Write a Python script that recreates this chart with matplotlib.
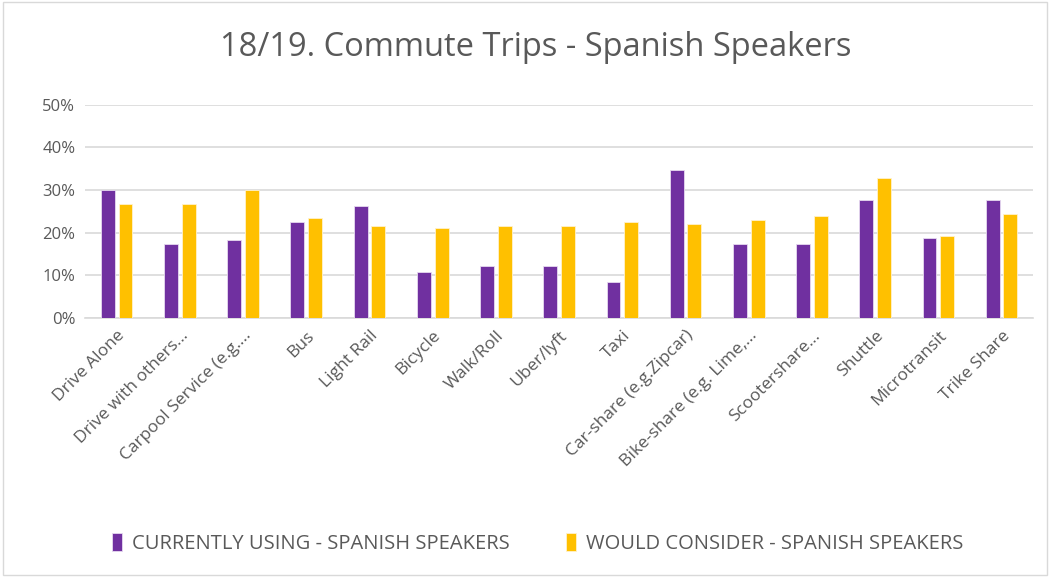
import matplotlib.pyplot as plt
import numpy as np
from matplotlib.patches import Rectangle

categories = ["Drive Alone", "Drive with others...", "Carpool Service (e.g....", "Bus",
              "Light Rail", "Bicycle", "Walk/Roll", "Uber/lyft", "Taxi",
              "Car-share (e.g.Zipcar)", "Bike-share (e.g. Lime,...", "Scootershare...",
              "Shuttle", "Microtransit", "Trike Share"]
currently_using = [30.1, 17.4, 18.3, 22.6, 26.3, 10.8, 12.2, 12.2, 8.5,
                   34.7, 17.4, 17.4, 27.7, 18.8, 27.7]
would_consider = [26.8, 26.8, 30.0, 23.5, 21.6, 21.1, 21.6, 21.6, 22.6,
                  22.1, 23.0, 24.0, 32.9, 19.3, 24.4]
series_names = ["CURRENTLY USING - SPANISH SPEAKERS", "WOULD CONSIDER - SPANISH SPEAKERS"]
yticks = [0, 10, 20, 30, 40, 50]

purple = "#7030a0"
gold = "#ffc000"
text_col = "#595959"

plt.rcParams['font.family'] = ['Open Sans', 'DejaVu Sans']

fig = plt.figure(figsize=(10.5, 5.77), dpi=100)
ax = fig.add_axes([0.081, 0.449, 0.903, 0.3695])

x = np.arange(len(categories))
w = 0.22
ax.bar(x - 0.14, currently_using, w, color=purple, label=series_names[0],
       edgecolor="#e6d9f0", linewidth=0.6, zorder=3)
ax.bar(x + 0.14, would_consider, w, color=gold, label=series_names[1],
       edgecolor="#fff2cc", linewidth=0.6, zorder=3)

ax.set_xlim(-0.5, len(categories) - 0.5)
ax.set_ylim(0, 50)
ax.set_yticks(yticks)
ax.set_yticklabels([f"{v}%" for v in yticks], color=text_col, fontsize=12)
ax.yaxis.grid(True, color="#d9d9d9", linewidth=1.2, zorder=0)
ax.set_xticks(x)
ax.set_xticklabels(categories, rotation=45, ha="right", rotation_mode="anchor",
                   color=text_col, fontsize=12.5)
ax.tick_params(axis="both", length=0, pad=7)
for s in ["top", "right", "left"]:
    ax.spines[s].set_visible(False)
ax.spines["bottom"].set_color("#d9d9d9")
ax.spines["bottom"].set_linewidth(1.2)

fig.text(0.51, 0.917, "18/19. Commute Trips - Spanish Speakers", ha="center",
         va="center", fontsize=23.5, color=text_col)

fig.legend(loc="center", bbox_to_anchor=(0.512, 0.058), ncol=2, frameon=False,
           fontsize=14.5, handlelength=0.5, handleheight=1.0, columnspacing=2.8,
           handletextpad=0.5, labelcolor=text_col)

fig.patches.append(Rectangle((0.003, 0.003), 0.994, 0.994, transform=fig.transFigure,
                             fill=False, edgecolor="#d9d9d9", linewidth=1))

fig.savefig("out.png", dpi=100)
